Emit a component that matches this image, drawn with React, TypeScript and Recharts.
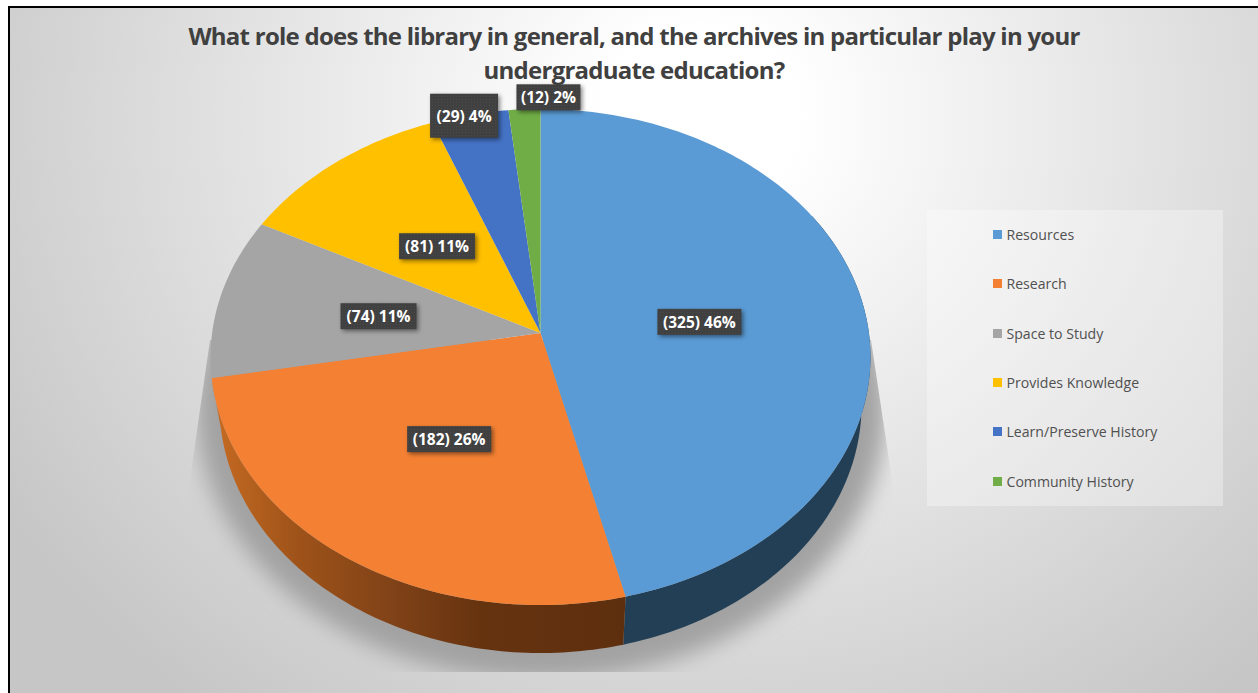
import { Legend, Pie, PieChart } from "recharts";

const CATEGORIES = ["Resources", "Research", "Space to Study", "Provides Knowledge", "Learn/Preserve History", "Community History"];
const COUNTS = [325, 182, 74, 81, 29, 12];
const PERCENT_LABELS = ["46%", "26%", "11%", "11%", "4%", "2%"];

const COLORS = ["#5B9BD5", "#F48133", "#A5A5A5", "#FFC000", "#4472C4", "#70AD47"];
const WALL_FILLS = ["#223F55", "url(#orangeWall)", "#666666", "#997300", "#2A4476", "#43682B"];

const TITLE_LINES = [
  "What role does the library in general, and the archives in particular play in your",
  "undergraduate education?",
];
const W = 1258;
const H = 693;

// the 3d look: circle -> tilted ellipse, apex sits above the ellipse centre
const CX = 540.5;
const APEX_Y = 333;
const PERSP = 0.0968;
const RX = 328.4;
const RY = 213.45;
const WALL_DEPTH = 48;
const WALL_SCALE = 0.973;
const WALL_FROM = 60;
const WALL_TO = 259;

// radius + nudge per label, the two small slices sit outside like in the original
const LABEL_RADIUS = [0.49, 0.49, 0.49, 0.49, 1, 1];
const LABEL_NUDGE = [[0, 3], [0, 1], [-4, 1], [0, 0], [-6, 1], [24, -12]];
const LABEL_BOX = [[84, 26], [84, 26], [76, 26], [76, 26], [68, 44], [64, 26]];

const data = CATEGORIES.map((name, i) => ({ name, value: COUNTS[i], fill: COLORS[i] }));

function project(deg: number, r = 1) {
  const rad = (deg * Math.PI) / 180;
  const u = Math.cos(rad) * r;
  const v = Math.sin(rad) * r;
  const d = 1 + PERSP * v;
  return { x: CX + (RX * u) / d, y: (APEX_Y - RY * v) / d };
}

function arcPoints(from: number, to: number) {
  const steps = Math.max(2, Math.ceil(Math.abs(to - from)));
  const pts = [];
  for (let i = 0; i <= steps; i++) pts.push(project(from + ((to - from) * i) / steps));
  return pts;
}

const toPath = (pts: { x: number; y: number }[]) =>
  pts.map((p, i) => `${i ? "L" : "M"}${p.x.toFixed(2)},${p.y.toFixed(2)}`).join(" ") + " Z";

function TopFace(props: any) {
  const pts = [project(0, 0), ...arcPoints(props.startAngle, props.endAngle)];
  return <path d={toPath(pts)} fill={props.fill} />;
}

function WallFace(props: any) {
  // only the front part of the rim shows, angles here run clockwise from 12 o'clock
  const from = Math.max(90 - props.startAngle, WALL_FROM);
  const to = Math.min(90 - props.endAngle, WALL_TO);
  if (to <= from) return null;
  const top = arcPoints(90 - from, 90 - to);
  const low = top
    .map((p) => ({ x: CX + (p.x - CX) * WALL_SCALE, y: p.y + WALL_DEPTH }))
    .reverse();
  return <path d={toPath([...top, ...low])} fill={WALL_FILLS[props.index ?? CATEGORIES.indexOf(props.name)]} />;
}

function SliceLabel(props: any) {
  const i = props.index;
  const p = project(props.midAngle, LABEL_RADIUS[i]);
  const x = p.x + LABEL_NUDGE[i][0];
  const y = p.y + LABEL_NUDGE[i][1];
  const [bw, bh] = LABEL_BOX[i];
  return (
    <g>
      <rect
        x={x - bw / 2}
        y={y - bh / 2}
        width={bw}
        height={bh}
        fill="url(#labelDots)"
        style={{ filter: "drop-shadow(2px 2px 2px rgba(0,0,0,0.45))" }}
      />
      <text
        x={x}
        y={y}
        textAnchor="middle"
        dominantBaseline="central"
        fill="#ffffff"
        fontFamily="'Open Sans', sans-serif"
        fontWeight={700}
        fontSize={15.5}
      >
        {`(${COUNTS[i]}) ${PERCENT_LABELS[i]}`}
      </text>
    </g>
  );
}

function LegendBox({ payload }: any) {
  const seen = new Set();
  const items = (payload ?? []).filter((e: any) => {
    if (e.type === "none" || seen.has(e.value)) return false;
    seen.add(e.value);
    return true;
  });
  return (
    <div style={{ width: 296, height: 296, background: "rgba(255,255,255,0.32)", position: "relative" }}>
      {items.map((entry: any, i: number) => (
        <div
          key={entry.value}
          style={{
            position: "absolute",
            left: 66,
            top: 24.5 + i * 49.3 - 10,
            height: 20,
            display: "flex",
            alignItems: "center",
            fontFamily: "'Open Sans', sans-serif",
            fontSize: 14.1,
            color: "#505050",
            whiteSpace: "nowrap",
          }}
        >
          <span style={{ width: 9, height: 9, marginRight: 4.5, background: entry.color }} />
          {entry.value}
        </div>
      ))}
    </div>
  );
}

export default function App() {
  return (
    <div style={{ position: "absolute", left: 0, top: 0, width: W, height: H, background: "#fff", overflow: "hidden" }}>
      <div
        style={{
          position: "absolute",
          left: 8,
          top: 6,
          right: 0,
          bottom: 0,
          borderLeft: "2px solid #000",
          borderTop: "2px solid #000",
          background: "radial-gradient(ellipse 820px 740px at 690px 110px, #ffffff 0%, #ffffff 12%, #c6c6c6 100%)",
        }}
      />
      <svg width={W} height={H} style={{ position: "absolute", left: 0, top: 0 }}>
        <defs>
          <linearGradient id="orangeWall" gradientUnits="userSpaceOnUse" x1="215" y1="0" x2="625" y2="0">
            <stop offset="0" stopColor="#C56A22" />
            <stop offset="0.21" stopColor="#9D5219" />
            <stop offset="0.45" stopColor="#7E4117" />
            <stop offset="0.65" stopColor="#66330F" />
            <stop offset="1" stopColor="#5E2F0E" />
          </linearGradient>
          <pattern id="labelDots" width="3" height="3" patternUnits="userSpaceOnUse">
            <rect width="3" height="3" fill="#404040" />
            <rect width="1" height="1" fill="#4a4a4a" />
          </pattern>
          <filter id="shadowBlur" x="-10%" y="-10%" width="120%" height="120%">
            <feGaussianBlur stdDeviation="11" />
          </filter>
          <clipPath id="shadowClip">
            <polygon points="210,340 871,340 895,500 895,672 187,672 187,500" />
          </clipPath>
        </defs>
        <g clipPath="url(#shadowClip)">
          <ellipse cx={541} cy={408} rx={345} ry={272} fill="#a2a2a2" filter="url(#shadowBlur)" />
        </g>
      </svg>
      <div
        style={{
          position: "absolute",
          left: 134,
          top: 19,
          width: 1000,
          textAlign: "center",
          fontFamily: "'Open Sans', sans-serif",
          fontWeight: 700,
          fontSize: 24,
          letterSpacing: -0.75,
          lineHeight: "34px",
          color: "#404040",
          whiteSpace: "nowrap",
        }}
      >
        {TITLE_LINES.map((line) => (
          <div key={line}>{line}</div>
        ))}
      </div>
      <div style={{ position: "absolute", left: 0, top: 0 }}>
        <PieChart width={W} height={H} margin={{ top: 0, right: 0, bottom: 0, left: 0 }}>
          <Pie
            data={data}
            dataKey="value"
            nameKey="name"
            cx={CX}
            cy={APEX_Y}
            outerRadius={RX}
            startAngle={90}
            endAngle={-270}
            stroke="none"
            legendType="none"
            shape={WallFace}
            isAnimationActive={false}
          />
          <Pie
            data={data}
            dataKey="value"
            nameKey="name"
            cx={CX}
            cy={APEX_Y}
            outerRadius={RX}
            startAngle={90}
            endAngle={-270}
            stroke="none"
            shape={TopFace}
            label={SliceLabel}
            labelLine={false}
            isAnimationActive={false}
          />
          <Legend
            layout="vertical"
            itemSorter={null}
            content={LegendBox}
            wrapperStyle={{ position: "absolute", left: 927, top: 210, width: 296, height: 296 }}
          />
        </PieChart>
      </div>
    </div>
  );
}
